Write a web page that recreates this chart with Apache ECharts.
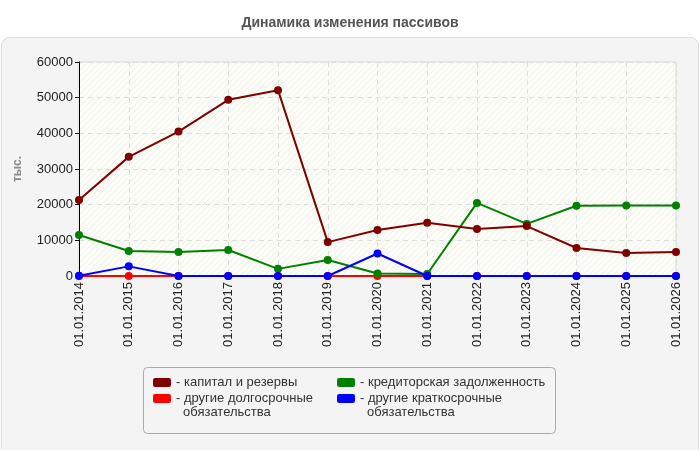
<!DOCTYPE html>
<html><head><meta charset="utf-8">
<script src="https://cdn.jsdelivr.net/npm/echarts@6/dist/echarts.min.js"></script>
<style>html,body{margin:0;padding:0;background:#fff}#c{width:700px;height:450px}</style>
</head><body><div id="c"></div>
<script>
const categories = ['01.01.2014','01.01.2015','01.01.2016','01.01.2017','01.01.2018','01.01.2019','01.01.2020','01.01.2021','01.01.2022','01.01.2023','01.01.2024','01.01.2025','01.01.2026'];
const capital = [21300, 33400, 40500, 49400, 52100, 9500, 12900, 14900, 13200, 14000, 7850, 6450, 6700];
const longTerm = [0, 0, 0, 0, 0, 0, 0, 0, 0, 0, 0, 0, 0];
const payables = [11500, 7000, 6700, 7300, 2000, 4500, 700, 550, 20500, 14600, 19700, 19800, 19800];
const shortTerm = [100, 2700, 0, 0, 0, 0, 6300, 0, 0, 0, 0, 0, 0];
const yTicks = [0, 10000, 20000, 30000, 40000, 50000, 60000];
const names = ['капитал и резервы', 'кредиторская задолженность', 'другие долгосрочные обязательства', 'другие краткосрочные обязательства'];
const firstLines = ['капитал и резервы', 'кредиторская задолженность', 'другие долгосрочные', 'другие краткосрочные'];
const secondLines = ['', '', 'обязательства', 'обязательства'];
const colors = ['#800000', '#008000', '#ff0000', '#0000ff'];

const pc = document.createElement('canvas');
pc.width = 6; pc.height = 6;
const g = pc.getContext('2d');
g.fillStyle = '#fdfdf8'; g.fillRect(0,0,6,6);
g.strokeStyle = '#efefeb'; g.lineWidth = 1;
g.beginPath(); g.moveTo(0,6); g.lineTo(6,0); g.moveTo(-1,1); g.lineTo(1,-1); g.moveTo(5,7); g.lineTo(7,5); g.stroke();

const FONT = 'Arial, "Liberation Sans", sans-serif';
const chart = echarts.init(document.getElementById('c'), null, {renderer: 'canvas'});
function mkSeries(i, data, z) {
  return {name: names[i], type: 'line', data: data, symbol: 'circle', symbolSize: 8, z: z,
    itemStyle: {color: colors[i]}, lineStyle: {color: colors[i], width: 2}, emphasis: {disabled: true}, animation: false};
}
function leg(i, left, top) {
  return {data: [names[i]], left: left, top: top, itemWidth: 18, itemHeight: 9, itemGap: 4, padding: 0,
    icon: 'roundRect', textStyle: {fontSize: 13, color: '#333', fontFamily: FONT},
    formatter: function () { return '- ' + firstLines[i]; }, selectedMode: false};
}
const graphics = [
  {type: 'rect', shape: {x: 1.5, y: 37.5, width: 697, height: 420, r: 8}, style: {fill: '#f4f4f4', stroke: '#dddddd', lineWidth: 1}, z: -10, silent: true},
  {type: 'rect', shape: {x: 143.5, y: 367.5, width: 412, height: 66, r: 4}, style: {fill: '#f4f4f4', stroke: '#aaaaaa', lineWidth: 1}, z: -5, silent: true},
  {type: 'text', left: 183, top: 406, style: {text: secondLines[2], fontSize: 13, fill: '#333', font: '13px ' + FONT}, silent: true},
  {type: 'text', left: 367, top: 406, style: {text: secondLines[3], fontSize: 13, fill: '#333', font: '13px ' + FONT}, silent: true}
];
chart.setOption({
  animation: false,
  backgroundColor: '#fff',
  title: {text: 'Динамика изменения пассивов', left: 'center', top: 11,
    textStyle: {fontSize: 14, fontWeight: 'bold', color: '#555', fontFamily: FONT}},
  graphic: graphics,
  legend: [leg(0, 153, 376), leg(1, 337, 376), leg(2, 153, 392), leg(3, 337, 392)],
  grid: {left: 79, right: 24, top: 62, bottom: 174, show: true, backgroundColor: {image: pc, repeat: 'repeat'}, borderColor: '#dddddd', borderWidth: 1},
  xAxis: {type: 'category', data: categories, boundaryGap: false,
    axisLine: {lineStyle: {color: '#000', width: 1}}, axisTick: {show: false},
    axisLabel: {rotate: 90, fontSize: 13, color: '#222', fontFamily: FONT, margin: 6, interval: 0},
    splitLine: {show: true, lineStyle: {color: '#dddddd', type: [5, 4]}}},
  yAxis: {type: 'value', min: yTicks[0], max: yTicks[yTicks.length - 1], interval: 10000,
    name: 'тыс.', nameLocation: 'middle', nameGap: 55, nameRotate: 90,
    nameTextStyle: {fontSize: 12, fontWeight: 'bold', color: '#888', fontFamily: FONT},
    axisLine: {show: true, lineStyle: {color: '#000', width: 1}}, axisTick: {show: true, length: 4, lineStyle: {color: '#000'}},
    axisLabel: {fontSize: 13, color: '#222', fontFamily: FONT, margin: 6, formatter: function (v) { return String(v); }},
    splitLine: {show: true, lineStyle: {color: '#dddddd', type: [5, 4]}}},
  series: [mkSeries(0, capital, 4), mkSeries(1, payables, 3), mkSeries(2, longTerm, 2), mkSeries(3, shortTerm, 5)]
});
</script></body></html>
